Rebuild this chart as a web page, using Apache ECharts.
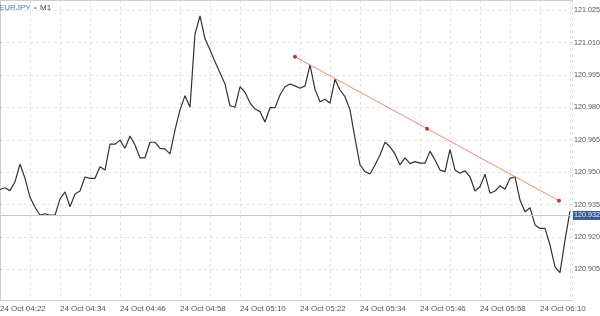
<!DOCTYPE html>
<html><head><meta charset="utf-8">
<script src="https://cdn.jsdelivr.net/npm/echarts@6/dist/echarts.min.js"></script>
<style>html,body{margin:0;padding:0;background:#fff}#c{width:600px;height:316px}</style>
</head><body><div id="c"></div>
<script>
// Minute offsets from 24 Oct 04:22 (M1 bars)
const xTickMinutes = [0, 12, 24, 36, 48, 60, 72, 84, 96, 108];
const xTickLabels = ['24 Oct 04:22', '24 Oct 04:34', '24 Oct 04:46', '24 Oct 04:58', '24 Oct 05:10',
  '24 Oct 05:22', '24 Oct 05:34', '24 Oct 05:46', '24 Oct 05:58', '24 Oct 06:10'];
const yTickValues = [120.905, 120.920, 120.935, 120.950, 120.965, 120.980, 120.995, 121.010, 121.025];

// Close prices, one per minute starting 04:22
const prices = [
  120.9420, 120.9428, 120.9415, 120.9456, 120.9538, 120.9472, 120.9384, 120.9338, 120.9302, 120.9308,
  120.9301, 120.9301, 120.9377, 120.9409, 120.9340, 120.9399, 120.9413, 120.9478, 120.9472, 120.9472,
  120.9526, 120.9510, 120.9630, 120.9630, 120.9649, 120.9611, 120.9668, 120.9626, 120.9567, 120.9567,
  120.9639, 120.9639, 120.9611, 120.9608, 120.9585, 120.9696, 120.9789, 120.9855, 120.9801, 121.0141,
  121.0224, 121.0118, 121.0067, 121.0012, 120.9961, 120.9909, 120.9808, 120.9801, 120.9896, 120.9871,
  120.9822, 120.9793, 120.9781, 120.9733, 120.9799, 120.9799, 120.9858, 120.9896, 120.9909, 120.9900,
  120.9889, 120.9900, 120.9997, 120.9884, 120.9827, 120.9838, 120.9820, 120.9931, 120.9881, 120.9850,
  120.9789, 120.9657, 120.9534, 120.9503, 120.9492, 120.9534, 120.9580, 120.9639, 120.9618, 120.9585,
  120.9534, 120.9567, 120.9540, 120.9549, 120.9542, 120.9542, 120.9598, 120.9557, 120.9510, 120.9503,
  120.9606, 120.9510, 120.9495, 120.9507, 120.9479, 120.9413, 120.9433, 120.9491, 120.9403, 120.9413,
  120.9438, 120.9421, 120.9472, 120.9479, 120.9371, 120.9317, 120.9336, 120.9256, 120.9240, 120.9240,
  120.9163, 120.9062, 120.9035, 120.9186, 120.9320
];
const lastPrice = 120.932;

// Trend line anchors (minute offset, price)
const trendMinutes = [59, 85.4, 111.8];
const trendPrices = [121.0035, 120.9702, 120.9368];

const chart = echarts.init(document.getElementById('c'), null, {renderer: 'canvas'});
const FONT = 'Liberation Sans, Arial, sans-serif';
const gridColor = '#e3e3e3';

chart.setOption({
  animation: false,
  backgroundColor: '#fff',
  grid: {left: 0, right: 28, top: 0, bottom: 15.3, containLabel: false, outerBoundsMode: 'none'},
  graphic: [
    {type: 'line', shape: {x1: 0, y1: 0.5, x2: 572, y2: 0.5}, style: {stroke: '#cfcfcf', lineWidth: 1}, z: 100},
    {type: 'text', left: -1, top: 2, z: 100, style: {
      text: '{a|EURJPY} {b|•} {c|M1}',
      rich: {
        a: {fill: '#3f7cc9', fontSize: 8, fontFamily: FONT},
        b: {fill: '#888', fontSize: 8, fontFamily: FONT},
        c: {fill: '#444', fontSize: 8, fontFamily: FONT}
      }
    }}
  ],
  xAxis: {
    type: 'value', min: 0, max: 114.4, interval: 6,
    axisLine: {show: true, lineStyle: {color: '#cfcfcf'}},
    axisTick: {show: false},
    axisLabel: {
      align: 'left', margin: 4, color: '#555', fontSize: 8, fontFamily: FONT,
      showMinLabel: true, showMaxLabel: true,
      formatter: v => { const i = xTickMinutes.indexOf(Math.round(v * 1000) / 1000); return i >= 0 ? xTickLabels[i] : ''; }
    },
    splitLine: {show: true, lineStyle: {color: gridColor, type: [3, 3]}}
  },
  yAxis: {
    type: 'value', position: 'right', min: 120.8905, max: 121.0298,
    axisLine: {show: true, lineStyle: {color: '#cfcfcf'}},
    axisTick: {show: true, length: 2, lineStyle: {color: '#bbb'}, customValues: yTickValues},
    axisLabel: {customValues: yTickValues, margin: 2, color: '#555', fontSize: 7.2, fontFamily: FONT,
      formatter: v => v.toFixed(3)},
    splitLine: {show: true, lineStyle: {color: gridColor, type: [3, 3]}}
  },
  series: [
    {
      type: 'line', data: prices.map((p, i) => [i, p]), showSymbol: false,
      lineStyle: {color: '#333', width: 1.2}, z: 3,
      markLine: {
        silent: true, symbol: ['none', 'none'], animation: false,
        lineStyle: {color: '#c9c9c9', type: 'solid', width: 1},
        label: {position: 'end', distance: 1, formatter: () => lastPrice.toFixed(3),
          backgroundColor: '#2f5e9c', color: '#eef3fb', fontSize: 7.2, fontFamily: FONT, padding: [1, 1, 1, 1]},
        data: [{yAxis: lastPrice}]
      }
    },
    {
      type: 'line', data: trendMinutes.map((m, i) => [m, trendPrices[i]]),
      symbol: 'circle', symbolSize: 4, showSymbol: true,
      itemStyle: {color: '#c0392b'}, lineStyle: {color: '#e58a7c', width: 1}, z: 4
    }
  ]
});
</script></body></html>
